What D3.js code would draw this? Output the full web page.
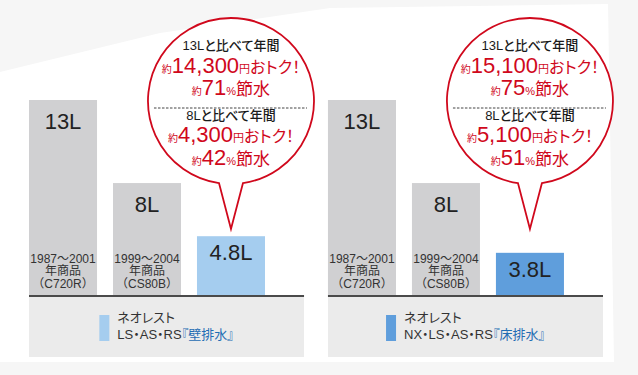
<!DOCTYPE html>
<html><head><meta charset="utf-8">
<script src="https://cdn.jsdelivr.net/npm/d3@7"></script>
<style>body{margin:0;background:#fff}svg{display:block}text{font-family:"Liberation Sans","Noto Sans CJK JP",sans-serif}.palt{font-feature-settings:"palt" 1}</style>
</head><body>
<script>
// ---- data ----
const panels = ["壁排水", "床排水"];
const oldLabels = ["13L", "8L"];
const oldValues = [13, 8];
const oldYears = ["1987～2001", "1999～2004"];
const oldModels = ["C720R", "CS80B"];
const newValues = [4.8, 3.8];
const newLabels = ["4.8L", "3.8L"];
const newModels = ["LS・AS・RS", "NX・LS・AS・RS"];
const newColors = ["#a5cdef", "#5f9edc"];
const yenVs13 = [14300, 15100];
const pctVs13 = [71, 75];
const yenVs8 = [4300, 5100];
const pctVs8 = [42, 51];
const barKeys = ["old13", "old8", "new"];

const W = 638, H = 375;
const svg = d3.select("body").append("svg").attr("width", W).attr("height", H);

// background decoration
svg.append("rect").attr("width", W).attr("height", H).attr("fill", "#f6f6f6");
svg.append("path").attr("d", "M0,72 L160,33 L330,8 L608,4 L614,362 L0,362 Z").attr("fill", "#ffffff");

const panelX = d3.scaleBand().domain(panels).range([29, 603]).paddingInner(0.08);
const pw = panelX.bandwidth();
const barX = d3.scaleBand().domain(barKeys).range([0, 236]).paddingInner(0.19);
const bw = barX.bandwidth();
const y = d3.scaleLinear().domain([1.2, 13]).range([296, 100]);
const base = y(1.2);
const red = "#d0081c";
const fmt = d3.format(",");

panels.forEach((p, i) => {
  const g = svg.append("g").attr("transform", `translate(${panelX(p)},0)`);
  // lower panel
  g.append("rect").attr("x", 0).attr("y", base).attr("width", pw).attr("height", 61).attr("fill", "#ebebeb");

  const bars = [
    {k: "old13", v: oldValues[0], lab: oldLabels[0], c: "#d0d0d2", yr: oldYears[0], m: oldModels[0]},
    {k: "old8", v: oldValues[1], lab: oldLabels[1], c: "#d0d0d2", yr: oldYears[1], m: oldModels[1]},
    {k: "new", v: newValues[i], lab: newLabels[i], c: newColors[i]}
  ];
  g.selectAll("rect.bar").data(bars).join("rect").attr("class", "bar")
    .attr("x", d => barX(d.k)).attr("y", d => y(d.v))
    .attr("width", bw).attr("height", d => base - y(d.v)).attr("fill", d => d.c);
  g.selectAll("text.val").data(bars).join("text").attr("class", "val")
    .attr("x", d => barX(d.k) + bw / 2).attr("y", d => y(d.v) + (d.yr ? 29 : 24))
    .attr("text-anchor", "middle").attr("font-size", 22).attr("fill", "#222").text(d => d.lab);
  const olds = bars.filter(d => d.yr);
  olds.forEach(d => {
    const cx = barX(d.k) + bw / 2;
    const t = g.append("text").attr("text-anchor", "middle").attr("font-size", 12).attr("fill", "#333");
    t.append("tspan").attr("x", cx).attr("y", 263).text(d.yr);
    t.append("tspan").attr("x", cx).attr("y", 275).text("年商品");
    t.append("tspan").attr("x", cx).attr("y", 288).text("（" + d.m + "）");
  });
  // baseline
  g.append("line").attr("x1", 0).attr("x2", pw).attr("y1", base).attr("y2", base)
    .attr("stroke", "#4a4a4a").attr("stroke-width", 2);

  // legend
  const lg = g.append("g").attr("class", "palt");
  lg.append("rect").attr("x", 0).attr("y", 315).attr("width", 10).attr("height", 26).attr("fill", newColors[i]);
  const lt = lg.append("text").attr("font-size", 13).attr("fill", "#333");
  lt.append("tspan").attr("x", 18).attr("y", 322).text("ネオレスト");
  const l2 = lg.append("text").attr("font-size", 13).attr("fill", "#333").attr("x", 18).attr("y", 339);
  l2.append("tspan").text(newModels[i]);
  l2.append("tspan").attr("fill", "#1f6db4").text("『" + p + "』");
  const lw = 18 + Math.max(lt.node().getComputedTextLength(), l2.node().getComputedTextLength());
  lg.attr("transform", `translate(${(pw - lw) / 2},0)`);

  // bubble
  const cx = barX("new") + bw / 2, cy = 101, r = 83, tipY = 229, hw = 12;
  const yb = cy + Math.sqrt(r * r - hw * hw);
  g.append("path")
    .attr("d", `M${cx + hw},${yb} A${r},${r} 0 1 0 ${cx - hw},${yb} L${cx},${tipY} Z`)
    .attr("fill", "#fff").attr("stroke", red).attr("stroke-width", 1.8).attr("stroke-linejoin", "miter");

  function line(yy, parts) {
    const t = g.append("text").attr("class", "palt").attr("x", cx).attr("y", yy).attr("text-anchor", "middle");
    parts.forEach(([s, fs, col, fw]) => t.append("tspan").attr("font-size", fs).attr("fill", col)
      .attr("font-weight", fw || "normal").text(s));
  }
  line(cy - 51, [["13Lと比べて年間", 13, "#1a1a1a", 500]]);
  line(cy - 28, [["約", 10, red], [fmt(yenVs13[i]), 22, red], ["円", 11, red], ["おトク！", 16, red]]);
  line(cy - 6, [["約", 10, red], [String(pctVs13[i]), 22, red], ["%", 11, red], ["節水", 17, red]]);
  g.append("line").attr("x1", cx - 77).attr("x2", cx + 76).attr("y1", cy + 7).attr("y2", cy + 7)
    .attr("stroke", "#444").attr("stroke-width", 1).attr("stroke-dasharray", "2.5,1.5");
  line(cy + 19, [["8Lと比べて年間", 13, "#1a1a1a", 500]]);
  line(cy + 41, [["約", 10, red], [fmt(yenVs8[i]), 22, red], ["円", 11, red], ["おトク！", 16, red]]);
  line(cy + 64, [["約", 10, red], [String(pctVs8[i]), 22, red], ["%", 11, red], ["節水", 17, red]]);
});
</script>
</body></html>
